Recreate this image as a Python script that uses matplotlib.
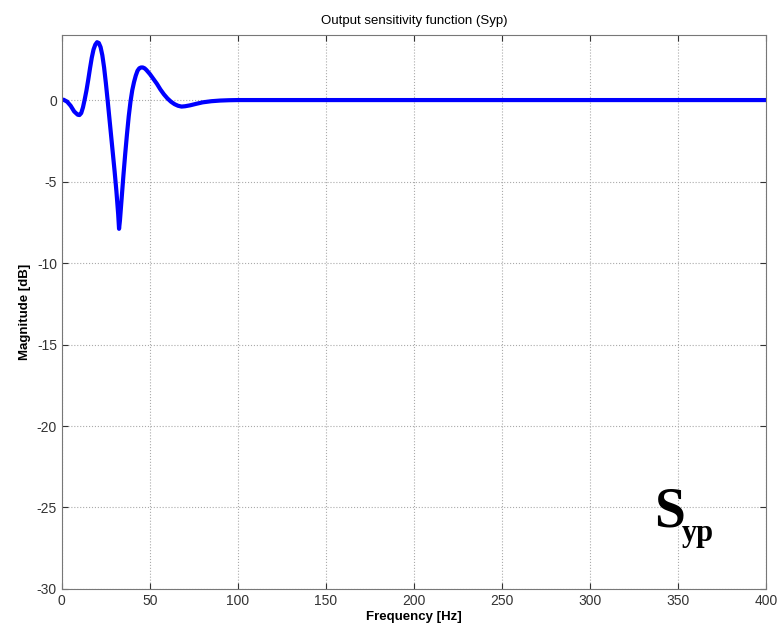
import numpy as np
import matplotlib.pyplot as plt

# values
freq = [0, 1, 3, 5, 7, 9, 10, 11, 12, 13, 14, 15, 16, 17, 18, 19, 20, 21,
        22, 23, 24, 25, 26, 27, 28, 29, 30, 31, 32, 32.5, 33, 34, 35, 36, 37,
        38, 39, 40, 41, 42, 43, 44, 45, 46, 47, 48, 50, 52, 54, 56, 58, 60,
        62, 64, 66, 68, 70, 73, 76, 80, 85, 90, 95, 100, 150, 200, 250, 300,
        350, 400]
mag_db = [0, 0.02, -0.1, -0.35, -0.7, -0.9, -0.92, -0.8, -0.45, 0.05, 0.6,
          1.25, 1.95, 2.6, 3.1, 3.4, 3.55, 3.5, 3.25, 2.75, 2.0, 1.05, 0.0,
          -1.1, -2.2, -3.3, -4.4, -5.6, -7.0, -7.9, -7.4, -6.0, -4.6, -3.3,
          -2.1, -1.0, -0.1, 0.6, 1.1, 1.5, 1.8, 1.95, 2.0, 2.0, 1.95, 1.85,
          1.6, 1.3, 1.0, 0.65, 0.35, 0.1, -0.1, -0.25, -0.35, -0.4, -0.38,
          -0.32, -0.24, -0.14, -0.07, -0.03, -0.01, 0, 0, 0, 0, 0, 0, 0]
xticks = [0, 50, 100, 150, 200, 250, 300, 350, 400]
yticks = [-30, -25, -20, -15, -10, -5, 0]

plt.rcParams['font.family'] = ['Liberation Sans', 'DejaVu Sans']
plt.rcParams['axes.unicode_minus'] = False

fig = plt.figure(figsize=(7.83, 6.34), dpi=100)
ax = fig.add_axes([0.079, 0.071, 0.899, 0.874])

ax.plot(freq, mag_db, color='#0000ff', lw=3, solid_joinstyle='round')

ax.set_xlim(0, 400)
ax.set_ylim(-30, 4)
ax.set_xticks(xticks)
ax.set_yticks(yticks)
ax.tick_params(direction='in', top=True, right=True, labelsize=10,
               colors='#333333', length=4)
for s in ax.spines.values():
    s.set_color('#777777')
ax.grid(True, linestyle=':', color='#aaaaaa', lw=0.8)

ax.set_title("Output sensitivity function (Syp)", fontsize=9.5, pad=8)
ax.set_xlabel("Frequency [Hz]", fontsize=9.5, fontweight='bold', labelpad=2)
ax.set_ylabel("Magnitude [dB]", fontsize=9.5, fontweight='bold', labelpad=4)

# big S_yp label in the lower right
ax.text(0.841, 0.112, "S", transform=ax.transAxes, fontsize=40,
        fontweight='bold', family='Liberation Serif', ha='left', va='baseline')
ax.text(0.881, 0.087, "yp", transform=ax.transAxes, fontsize=22,
        fontweight='bold', family='Liberation Serif', ha='left', va='baseline')

plt.savefig("out.png", dpi=100)
plt.close()
